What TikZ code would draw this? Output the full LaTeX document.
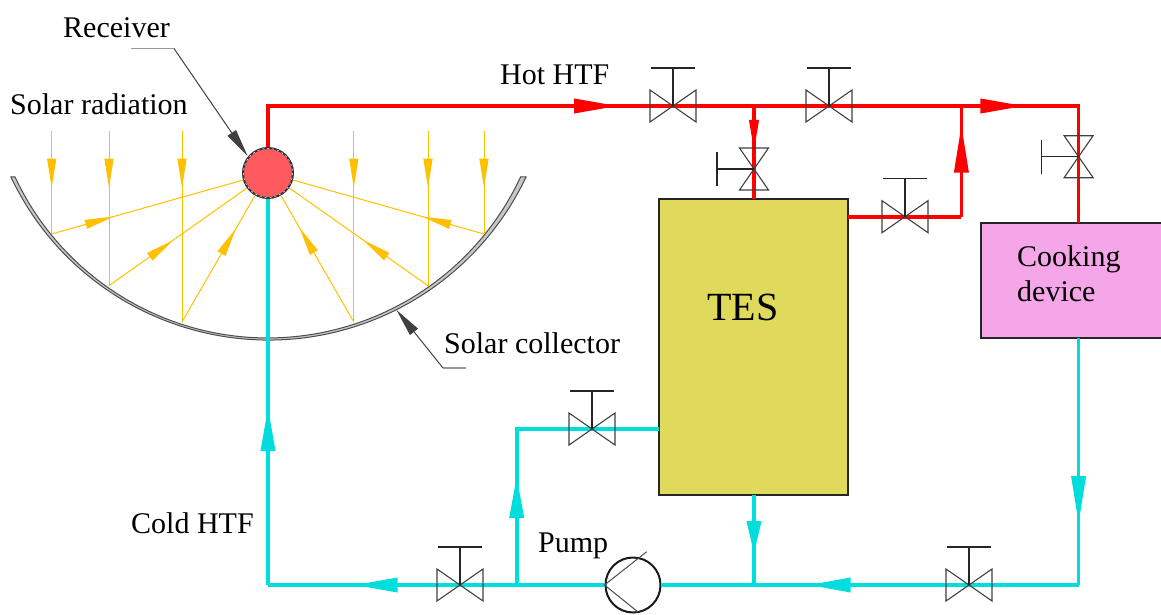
\documentclass[tikz,border=0pt]{standalone}
\usepackage{fontspec}
\setmainfont{Liberation Serif}
\usetikzlibrary{arrows.meta,decorations.markings}
\definecolor{hotc}{HTML}{FF0000}
\definecolor{coldc}{HTML}{00DDDD}
\definecolor{rayc}{HTML}{FFC000}
\definecolor{recvc}{HTML}{FF5A5F}
\definecolor{tesc}{HTML}{E0DA5C}
\definecolor{cookc}{HTML}{F4A6E8}
\tikzset{
  x=1pt,y=-1pt,
  flowmark/.style n args={3}{postaction={decorate},decoration={markings,mark=at position #1 with {\arrow{Triangle[length=#2,width=#3]}}}},
  hotpipe/.style={draw=hotc,line width=3.6pt,line join=miter},
  coldpipe/.style={draw=coldc,line width=3.6pt,line join=miter},
  ray/.style={draw=rayc,line width=1pt},
  lab/.style={inner sep=0pt,anchor=base west,font=\fontsize{30}{32}\selectfont,text=black},
  tank/.style={draw=black!85,line width=1.1pt,inner sep=0pt},
  valveh/.pic={
    \draw[black!75,line width=1.1pt] (-23,-16)--(23,16)--(23,-16)--(-23,16)--cycle;
    \draw[black!85,line width=1.1pt] (0,0)--(0,-38) (-22,-38)--(22,-38);
  },
  valvev/.pic={
    \draw[black!75,line width=1.1pt] (-14.5,-21)--(14.5,21)--(-14.5,21)--(14.5,-21)--cycle;
    \draw[black!85,line width=1.1pt] (0,0)--(-37,0) (-37,-17)--(-37,17);
  }
}
\begin{document}
\begin{tikzpicture}
\useasboundingbox (0,0) rectangle (1161,615);
% dish
\filldraw[fill=black!22,draw=black!70,line width=1pt]
  (268.5,55) ++(154.7:285) arc[start angle=154.7,end angle=25.3,radius=285]
  -- ++(-5.5,0) arc[start angle=25.0,end angle=155.0,radius=279] -- cycle;
% nodes
\node[circle,fill=recvc,draw=black!80,line width=2pt,minimum size=50pt,inner sep=0pt] (recv) at (268,173) {};
\draw[white,line width=0.5pt,dash pattern=on 2pt off 3pt] (recv.center) circle[radius=24.6];
\node[tank,fill=tesc,minimum width=189pt,minimum height=296pt] (tes) at (753.5,347) {};
\node[tank,fill=cookc,minimum width=182pt,minimum height=115pt] (cook) at (1072,280.5) {};
\node[circle,draw=black!90,fill=white,line width=2pt,minimum size=55pt,inner sep=0pt] (pump) at (633,585) {};
% labels
\node[lab] (lrecv) at (63,37.5) {Receiver};
\node[lab] (lsolar) at (10,114.5) {Solar radiation};
\node[lab] (lhot) at (500,85) {Hot HTF};
\node[lab] (lcoll) at (444,353) {Solar collector};
\node[lab] (lcold) at (131,533) {Cold HTF};
\node[lab] (lpump) at (538,552) {Pump};
\node[lab,font=\fontsize{40}{44}\selectfont] (ltes) at (707,320) {TES};
\node[lab] (lcook1) at (1017,266) {Cooking};
\node[lab] (lcook2) at (1017,301) {device};
% ray coordinates
\coordinate (t1) at (51.7,130.7); \coordinate (b1) at (51.7,234);
\coordinate (t2) at (109,130.7);  \coordinate (b2) at (109,285.7);
\coordinate (t3) at (182,130.7);  \coordinate (b3) at (182,322);
\coordinate (t4) at (353.8,130.7);\coordinate (b4) at (353.8,322);
\coordinate (t5) at (428,130.7);  \coordinate (b5) at (428,285.7);
\coordinate (t6) at (484,130.7);  \coordinate (b6) at (484,234);
\foreach \i in {1,...,6}{
  \draw[ray,flowmark={57pt}{29pt}{9pt}] (t\i) -- (b\i);
}
\draw[ray,flowmark={64.5pt}{29pt}{9pt}] (b1) -- (recv);
\draw[ray,flowmark={79pt}{29pt}{9pt}] (b2) -- (recv);
\draw[ray,flowmark={108pt}{29pt}{9pt}] (b3) -- (recv);
\draw[ray,flowmark={109pt}{29pt}{9pt}] (b4) -- (recv);
\draw[ray,flowmark={79.5pt}{29pt}{9pt}] (b5) -- (recv);
\draw[ray,flowmark={64pt}{29pt}{9pt}] (b6) -- (recv);
% pipe coordinates
\coordinate (hc1) at (268,106);
\coordinate (hj1) at (754,106);
\coordinate (hj2) at (961.4,106);
\coordinate (hc2) at (1078.6,106);
\coordinate (tesout) at (754,199);
\coordinate (tesr) at (848,216.7);
\coordinate (hc3) at (961.4,216.7);
\coordinate (cookin) at (1078.6,223);
\coordinate (cc1) at (268,585);
\coordinate (cj1) at (516.7,585);
\coordinate (cc2) at (516.7,429);
\coordinate (tesl) at (659,429);
\coordinate (cj2) at (754,585);
\coordinate (tesb) at (754,495);
\coordinate (cc3) at (1078.6,585);
\coordinate (cookout) at (1078.6,338);
% hot pipes
\draw[hotpipe,flowmark={391pt}{44pt}{14pt}] (recv.north) |- (hj1);
\draw[hotpipe] (hj1) -- (hj2);
\draw[hotpipe,flowmark={63pt}{44pt}{14pt}] (hj2) -- (hc2) -- (cookin);
\draw[hotpipe,flowmark={46pt}{32pt}{9pt}] (hj1) -- (tesout);
\draw[hotpipe] (tesr) -- (hc3);
\draw[hotpipe,flowmark={92pt}{48pt}{14pt}] (hc3) -- (hj2);
% cold pipes
\draw[coldpipe,flowmark={178pt}{44pt}{14pt}] (cc1) -- (recv.south);
\draw[coldpipe,flowmark={163pt}{44pt}{14pt}] (cj1) -- (cc1);
\draw[coldpipe] (cj1) -- (pump.west);
\draw[coldpipe,flowmark={109pt}{42pt}{14pt}] (cj1) -- (cc2) -- (tesl);
\draw[coldpipe] (pump.east) -- (cj2);
\draw[coldpipe,flowmark={59pt}{33pt}{14pt}] (tesb) -- (cj2);
\draw[coldpipe,flowmark={270pt}{42pt}{14pt}] (cc3) -- (cj2);
\draw[coldpipe,flowmark={186pt}{48pt}{14pt}] (cookout) -- (cc3);
% pump glyph
\coordinate (pu1) at (646.7,551.7);
\coordinate (pu2) at (638,612);
\draw[black!70,line width=1pt] (pu1) -- (pump.west) -- (pu2);
% valves
\coordinate (v1) at (673,106);
\coordinate (v2) at (829,106);
\coordinate (v3) at (905,216.7);
\coordinate (v4) at (592,429);
\coordinate (v5) at (460,585);
\coordinate (v6) at (969,585);
\coordinate (v7) at (754,169);
\coordinate (v8) at (1078.6,156.7);
\foreach \v in {v1,v2,v3,v4,v5,v6}{ \pic at (\v) {valveh}; }
\foreach \v in {v7,v8}{ \pic at (\v) {valvev}; }
% leaders
\coordinate (r0) at (131,48.5); \coordinate (r1) at (174,48.5); \coordinate (r2) at (247.6,156);
\coordinate (c0) at (466,368); \coordinate (c1) at (443,368); \coordinate (c2) at (396.5,310);
\draw[black!40,line width=1.3pt] (r0) -- (r1);
\draw[black!75,line width=1pt,-{Triangle[length=28pt,width=10pt]}] (r1) -- (r2);
\draw[black!40,line width=1.3pt] (c0) -- (c1);
\draw[black!75,line width=1pt,-{Triangle[length=28pt,width=10pt]}] (c1) -- (c2);
\end{tikzpicture}
\end{document}
